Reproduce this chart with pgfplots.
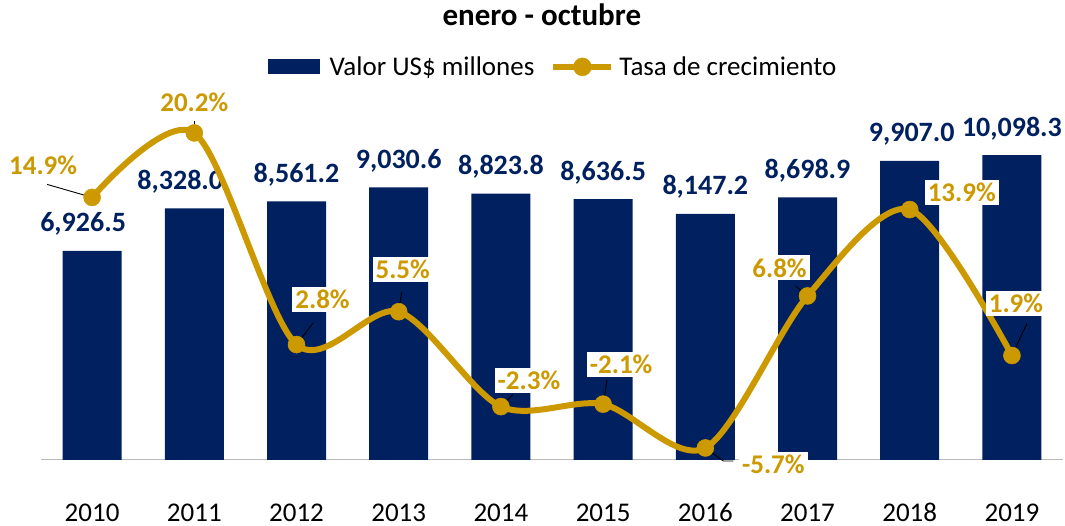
\documentclass[border=0pt]{standalone}
\usepackage{fontspec}
\setmainfont{Carlito}
\usepackage{pgfplots}
\pgfplotsset{compat=1.18}
\definecolor{navy}{HTML}{002060}
\definecolor{gold}{HTML}{CC9900}
\tikzset{
  lab/.style={fill=white, text=gold, inner sep=3pt,
      font=\bfseries\fontsize{27}{32}\selectfont},
  ld/.style={black, line width=0.9pt},
}

\begin{document}
\begin{tikzpicture}
\useasboundingbox (-41pt,-66pt) rectangle (1024pt,460pt);
\pgfplotsset{base/.style={scale only axis, width=1022pt, height=365pt,
    xmin=-0.5, xmax=9.5, clip=false, at={(0pt,0pt)}, anchor=south west}}

% barras: valor
\begin{axis}[base,
    ybar, bar width=59pt, ymin=0, ymax=12086,
    axis y line=none, axis x line*=bottom,
    axis line style={draw=gray!55, line width=1pt, -},
    xtick={0,...,9},
    xticklabels={2010,2011,2012,2013,2014,2015,2016,2017,2018,2019},
    xtick style={draw=none},
    xticklabel style={anchor=base, inner sep=0pt, yshift=-57pt,
        font=\fontsize{27}{32}\selectfont},
    nodes near coords={\pgfmathprintnumber[fixed, fixed zerofill, precision=1,
        1000 sep={,}, assume math mode=true]{\pgfplotspointmeta}},
    visualization depends on={\thisrow{dx} \as \dx},
    every node near coord/.append style={anchor=base, yshift=19pt, xshift=\dx pt,
        text=navy, font=\bfseries\fontsize{28}{33}\selectfont},
    title={enero - octubre},
    title style={at={(0.490,1.203)}, anchor=center,
        font=\bfseries\fontsize{31}{36}\selectfont},
    legend style={at={(0.501,1.077)}, anchor=center, draw=none, fill=none,
        legend columns=2, font=\fontsize{27}{32}\selectfont,
        /tikz/every even column/.append style={column sep=14pt}},
]
\addplot[fill=navy, draw=none,
    legend image code/.code={\fill[navy] (0pt,-7.5pt) rectangle (52pt,7.5pt);}]
    table {
    x  y        dx
    0  6926.5   -9
    1  8328.0   -14
    2  8561.2   0
    3  9030.6   0
    4  8823.8   0
    5  8636.5   0
    6  8147.2   0
    7  8698.9   0
    8  9907.0   2
    9  10098.3  0
    };
\addlegendentry{\hspace{8pt}Valor US\$ millones}
\addlegendimage{legend image code/.code={
    \draw[gold, line width=6pt] (0pt,0pt) -- (58pt,0pt);
    \fill[gold] (29pt,0pt) circle (9pt);}}
\addlegendentry{\hspace{3pt}Tasa de crecimiento}
\end{axis}

% linea: tasa de crecimiento
\begin{axis}[base, ymin=-6.69, ymax=23.32, hide axis]
\addplot[gold, line width=6pt, smooth, mark=*, mark size=8.5pt,
    mark options={fill=gold, draw=gold, line width=0.5pt}]
    coordinates {(0,14.9) (1,20.2) (2,2.8) (3,5.5) (4,-2.3)
                 (5,-2.1) (6,-5.7) (7,6.8) (8,13.9) (9,1.9)};

\draw[ld] (axis cs:0,14.9) -- ++(-45pt,13pt);
\draw[ld] (axis cs:1,20.2) -- ++(0pt,12pt);
\draw[ld] (axis cs:2,2.8) -- ++(17pt,22pt);
\draw[ld] (axis cs:3,5.5) -- ++(3pt,20pt);
\draw[ld] (axis cs:4,-2.3) -- ++(12pt,12pt);
\draw[ld] (axis cs:5,-2.1) -- ++(4pt,24pt);
\draw[ld] (axis cs:6,-5.7) -- ++(18pt,-13pt) -- ++(10pt,0pt);
\draw[ld] (axis cs:7,6.8) -- ++(-12pt,10pt);
\draw[ld] (axis cs:9,1.9) -- ++(15pt,32pt);

\node[lab, xshift=-49pt, yshift=32pt] at (axis cs:0,14.9) {14.9\%};
\node[lab, xshift=0pt, yshift=31pt] at (axis cs:1,20.2) {20.2\%};
\node[lab, xshift=26pt, yshift=45pt] at (axis cs:2,2.8) {2.8\%};
\node[lab, xshift=4pt, yshift=42pt] at (axis cs:3,5.5) {5.5\%};
\node[lab, xshift=28pt, yshift=26pt] at (axis cs:4,-2.3) {-2.3\%};
\node[lab, xshift=18pt, yshift=40pt] at (axis cs:5,-2.1) {-2.1\%};
\node[lab, xshift=68pt, yshift=-16pt] at (axis cs:6,-5.7) {-5.7\%};
\node[lab, xshift=-28pt, yshift=28pt] at (axis cs:7,6.8) {6.8\%};
\node[lab, xshift=52pt, yshift=17pt] at (axis cs:8,13.9) {13.9\%};
\node[lab, xshift=4pt, yshift=52pt] at (axis cs:9,1.9) {1.9\%};
\end{axis}
\end{tikzpicture}
\end{document}
